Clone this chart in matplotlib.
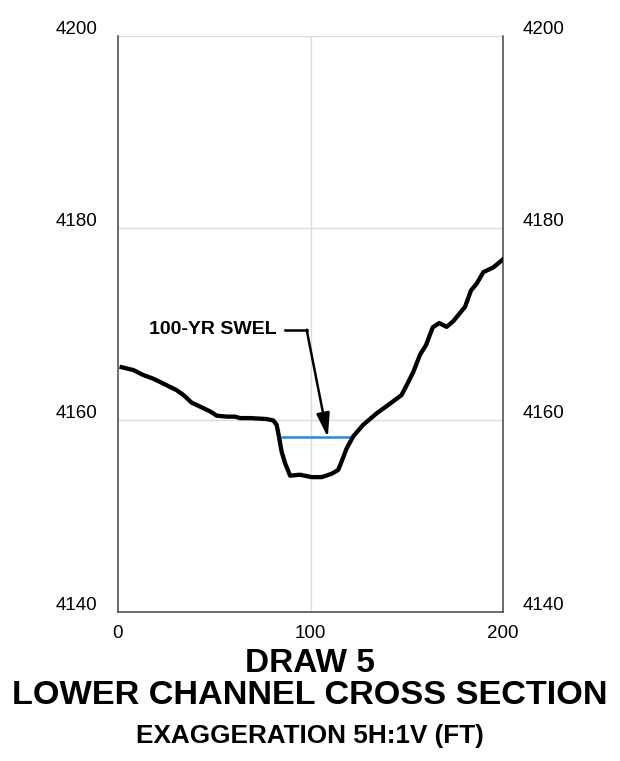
import numpy as np
import matplotlib.pyplot as plt
from matplotlib.patches import FancyArrowPatch

plt.rcParams['font.family'] = ['Liberation Sans', 'DejaVu Sans']

# ground profile (station ft, elevation ft)
station = [1.9, 8.0, 13.0, 18.3, 23.5, 30.5, 34.0, 38.3, 42.6, 47.8, 51.3, 56.5,
           60.8, 63.4, 68.6, 77.2, 80.7, 82.4, 83.3, 85.0, 86.8, 89.4, 94.5,
           100.6, 105.8, 111.0, 114.4, 116.2, 118.8, 122.2, 127.4, 134.4, 141.3,
           147.3, 149.9, 153.4, 156.9, 160.0, 163.5, 166.9, 170.7, 174.2, 180.3,
           183.4, 186.3, 189.8, 195.0, 199.8]
elev = [4165.5, 4165.2, 4164.7, 4164.3, 4163.8, 4163.1, 4162.6, 4161.8, 4161.4,
        4160.9, 4160.45, 4160.35, 4160.35, 4160.2, 4160.2, 4160.1, 4159.95, 4159.5,
        4158.6, 4156.7, 4155.5, 4154.2, 4154.3, 4154.05, 4154.05, 4154.4, 4154.8,
        4155.7, 4157.05, 4158.3, 4159.5, 4160.7, 4161.7, 4162.6, 4163.6, 4165.0,
        4166.8, 4167.8, 4169.65, 4170.1, 4169.7, 4170.3, 4171.8, 4173.5, 4174.2,
        4175.4, 4175.9, 4176.7]

swel = 4158.2
swel_x = [85.0, 121.5]

yticks = [4140, 4160, 4180, 4200]
xticks = [0, 100, 200]

fig = plt.figure(figsize=(6.2, 7.61), dpi=100)
ax = fig.add_axes([118/620, 1-612/761, 385/620, 576/761])

ax.set_xlim(0, 200)
ax.set_ylim(4140, 4200)

# grid
for y in yticks:
    ax.axhline(y, color="#dcdcdc", linewidth=1, zorder=0)
ax.axvline(100, color="#dcdcdc", linewidth=1, zorder=0)

ax.plot(swel_x, [swel, swel], color="#1e8cf0", linewidth=1.8, zorder=2)
ax.plot(station, elev, color="black", linewidth=3.1, solid_joinstyle="round", zorder=3)

for s in ["left", "right", "bottom"]:
    ax.spines[s].set_color("#444444")
    ax.spines[s].set_linewidth(1.1)
ax.spines["top"].set_visible(False)

ax.set_yticks([])
ax.set_xticks(xticks)
ax.set_xticklabels([str(x) for x in xticks], fontsize=13.5)
ax.tick_params(axis="x", length=0, pad=9)

# elevation labels on both sides, above gridlines
for y in yticks:
    ax.annotate(str(y), xy=(0, y), xycoords=("axes fraction", "data"),
                xytext=(-15, 1.5), textcoords="offset points",
                ha="right", va="baseline", fontsize=13.5)
    ax.annotate(str(y), xy=(1, y), xycoords=("axes fraction", "data"),
                xytext=(14, 1.5), textcoords="offset points",
                ha="left", va="baseline", fontsize=13.5)

# SWEL callout
ax.text(82.5, 4169.4, "100-YR SWEL", ha="right", va="center",
        fontsize=14, fontweight="bold")
ax.plot([87, 98], [4169.4, 4169.4], color="black", linewidth=1.8)
arr = FancyArrowPatch((98, 4169.4), (109, swel),
                      arrowstyle="-|>,head_length=0.9,head_width=0.25",
                      mutation_scale=16, color="black", linewidth=1.8,
                      shrinkA=0, shrinkB=0)
ax.add_patch(arr)

fig.text(0.5, 1-664/761, "DRAW 5", ha="center", va="center",
         fontsize=24, fontweight="bold")
fig.text(0.5, 1-695/761, "LOWER CHANNEL CROSS SECTION", ha="center", va="center",
         fontsize=24.7, fontweight="bold")
fig.text(0.5, 1-736/761, "EXAGGERATION 5H:1V (FT)", ha="center", va="center",
         fontsize=18.8, fontweight="bold")

fig.savefig("out.png", dpi=100)
